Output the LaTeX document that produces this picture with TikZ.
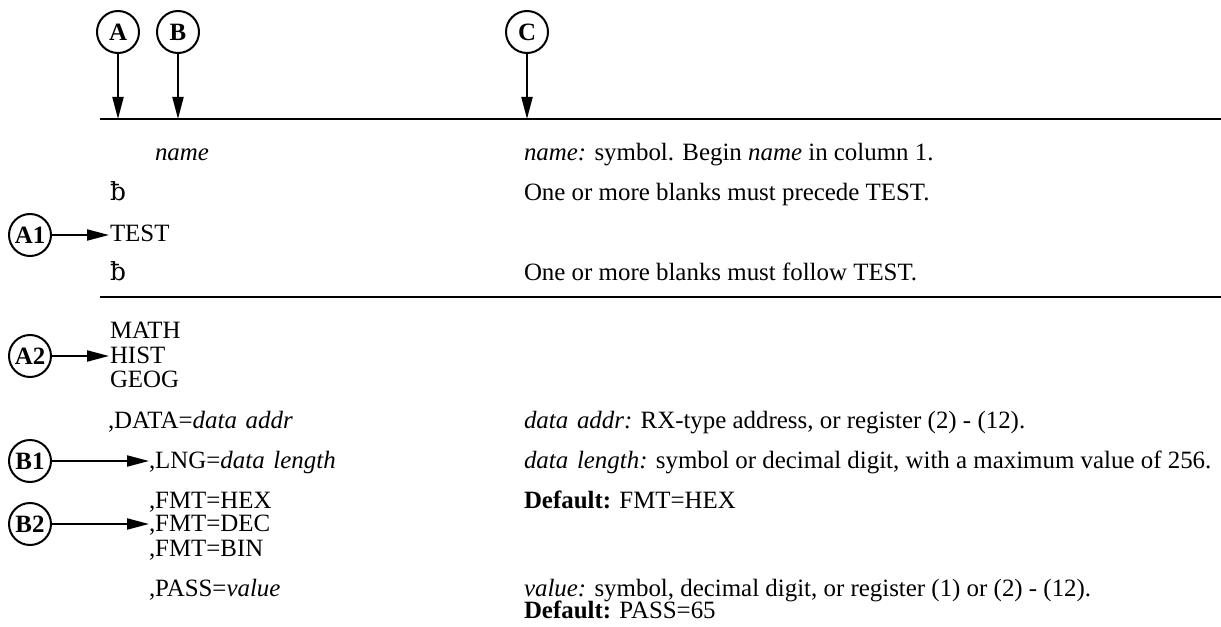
\documentclass[tikz,border=0pt]{standalone}
\usepackage{fontspec}
\setmainfont{Liberation Serif}
\newfontfamily\bfont{DejaVu Serif}
\usetikzlibrary{arrows.meta}
\newcommand{\bst}{{\bfont ƀ}}
\begin{document}
\begin{tikzpicture}[x=0.5bp,y=-0.5bp,
  every node/.style={inner sep=0pt,outer sep=0pt,font=\fontsize{12.5}{14}\selectfont},
  txt/.style={anchor=base west},
  callout/.style={circle,draw,line width=1bp,minimum size=21bp,inner sep=0pt,font=\fontsize{12.5}{14}\selectfont\bfseries},
  arr/.style={line width=1bp,-{Triangle[length=11bp,width=5.5bp]}},
  rulea/.style={line width=1.4bp},
  ruleb/.style={line width=1bp}]
\useasboundingbox (0,0) rectangle (1221,626);
% top markers
\node[callout] (A) at (118,32) {A};
\node[callout] (B) at (178,32) {B};
\node[callout] (C) at (527,32) {C};
\coordinate (la) at (118,119);
\coordinate (lb) at (178,119);
\coordinate (lc) at (527,119);
\draw[arr] (A) -- (la);
\draw[arr] (B) -- (lb);
\draw[arr] (C) -- (lc);
\coordinate (l1s) at (100,119);
\coordinate (l1e) at (1221,119);
\draw[rulea] (l1s) -- (l1e);
% first block
\node[txt] (name) at (155,161) {\itshape name};
\node[txt] (named) at (524,161) {\textit{name:} symbol. Begin \textit{name} in column 1.};
\node[txt] (b1) at (110,200) {\bst};
\node[txt] (b1d) at (524,200) {One or more blanks must precede TEST.};
\node[callout] (A1) at (30,235) {A1};
\node[txt] (test) at (110,242) {TEST};
\coordinate (t1) at (109,235);
\draw[arr] (A1) -- (t1);
\node[txt] (b2) at (110,280) {\bst};
\node[txt] (b2d) at (524,280) {One or more blanks must follow TEST.};
\coordinate (l2s) at (100,297);
\coordinate (l2e) at (1221,297);
\draw[ruleb] (l2s) -- (l2e);
% second block
\node[txt] (math) at (110,338) {MATH};
\node[txt] (hist) at (110,363) {HIST};
\node[txt] (geog) at (110,387) {GEOG};
\node[callout] (A2) at (30,356) {A2};
\coordinate (t2) at (109,356);
\draw[arr] (A2) -- (t2);
\node[txt] (data) at (108,428) {,DATA=\textit{data\hspace{0.35em}addr}};
\node[txt] (datad) at (524,428) {\textit{data\hspace{0.35em}addr:} RX-type address, or register (2) - (12).};
\node[callout] (B1) at (30,461) {B1};
\node[txt] (lng) at (149,468) {,LNG=\textit{data\hspace{0.35em}length}};
\node[txt] (lngd) at (524,468) {\textit{data\hspace{0.35em}length:} symbol or decimal digit, with a maximum value of 256.};
\coordinate (t3) at (149,461);
\draw[arr] (B1) -- (t3);
\node[txt] (hex) at (149,508) {,FMT=HEX};
\node[txt] (hexd) at (524,508) {\textbf{Default:} FMT=HEX};
\node[callout] (B2) at (30,524) {B2};
\node[txt] (dec) at (149,531) {,FMT=DEC};
\coordinate (t4) at (149,524);
\draw[arr] (B2) -- (t4);
\node[txt] (bin) at (149,556) {,FMT=BIN};
\node[txt] (pass) at (149,596) {,PASS=\textit{value}};
\node[txt] (passd) at (524,596) {\textit{value:} symbol, decimal digit, or register (1) or (2) - (12).};
\node[txt] (passdef) at (524,618) {\textbf{Default:} PASS=65};
\end{tikzpicture}
\end{document}
